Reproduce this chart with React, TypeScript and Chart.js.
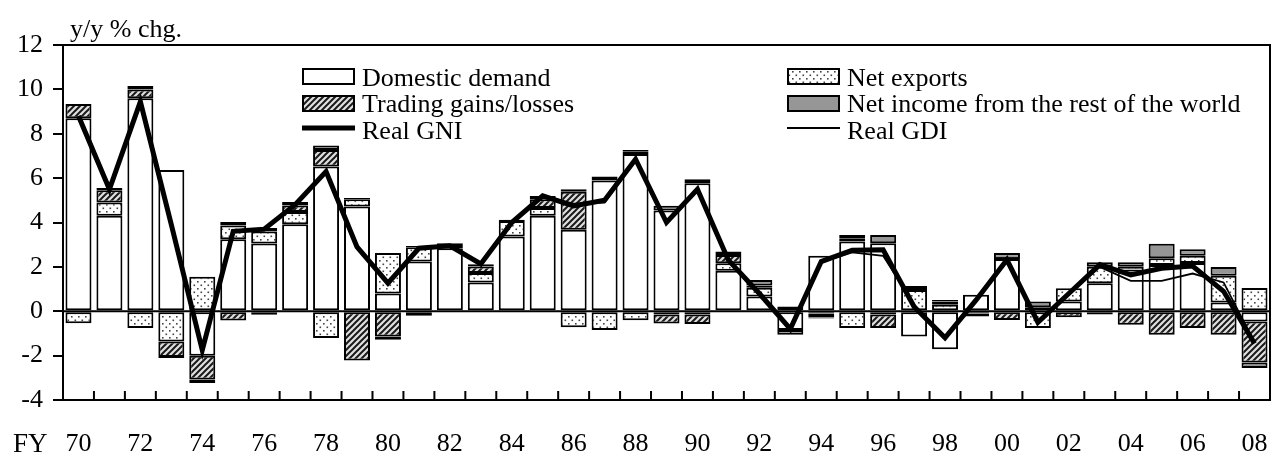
import React, { useEffect, useRef } from 'react';
import { Chart, registerables } from 'chart.js';

Chart.register(...registerables);

const years = [
  '70', '71', '72', '73', '74', '75', '76', '77', '78', '79',
  '80', '81', '82', '83', '84', '85', '86', '87', '88', '89',
  '90', '91', '92', '93', '94', '95', '96', '97', '98', '99',
  '00', '01', '02', '03', '04', '05', '06', '07', '08',
];

const domesticDemand = [
  8.7, 4.3, 9.6, 6.37, -2.0, 3.25, 3.05, 3.92, 6.52, 4.72,
  0.8, 2.24, 2.84, 1.3, 3.37, 4.3, 3.67, 5.89, 7.09, 4.54,
  5.77, 1.83, 0.66, -0.84, 2.5, 3.14, 3.07, -1.14, -1.71, 0.74,
  2.35, 0.1, 0.44, 1.26, 1.79, 2.09, 2.17, 0.4, -0.46,
];

const netExports = [
  -0.54, 0.6, -0.76, -1.36, 1.56, 0.62, 0.55, 0.55, -1.21, 0.33,
  1.82, 0.65, 0, 0.42, 0.7, 0.35, -0.72, -0.84, -0.4, -0.15,
  -0.15, 0.33, 0.4, 0, -0.1, -0.76, -0.15, 0.96, 0.29, -0.1,
  0, -0.76, 0.6, 0.75, 0.22, 0.3, 0.33, 1.2, 1.05,
];

const tradingGains = [
  0.64, 0.55, 0.4, -0.7, -1.08, -0.42, -0.16, 0.3, 0.75, -2.22,
  -1.14, -0.2, 0.1, 0.3, 0.05, 0.4, 1.72, 0, 0.1, -0.4,
  -0.43, 0.38, 0.1, 0.21, -0.18, 0.15, -0.61, 0.18, 0.15, -0.14,
  -0.39, 0.08, -0.27, -0.15, -0.61, -1.06, -0.76, -1.06, -1.85,
];

const netIncome = [
  0, 0.1, 0.15, -0.05, -0.15, 0.15, 0.15, 0.15, 0.2, 0.05,
  -0.15, 0.05, 0.12, 0.1, 0, 0.15, 0.11, 0.18, 0.08, 0.21,
  0.18, 0.15, 0.25, -0.22, -0.05, 0.15, 0.37, 0, 0.07, 0,
  0.27, 0.26, 0, 0.2, 0.2, 0.65, 0.3, 0.4, -0.25,
];

const realGNI = [
  8.8, 5.5, 9.45, 3.9, -1.75, 3.6, 3.7, 4.8, 6.3, 2.9,
  1.27, 2.84, 2.95, 2.13, 4.0, 5.2, 4.75, 5.0, 6.85, 4.0,
  5.5, 2.3, 0.8, -0.8, 2.24, 2.75, 2.77, 0.2, -1.2, 0.5,
  2.32, -0.5, 0.8, 2.1, 1.64, 1.94, 2.04, 0.9, -1.45,
];

const realGDI = [
  8.8, 5.5, 9.4, 3.9, -1.8, 3.6, 3.65, 4.8, 6.3, 2.9,
  1.3, 2.8, 2.95, 2.1, 4.0, 5.15, 4.85, 4.9, 6.8, 4.0,
  5.45, 2.3, 0.8, -0.8, 2.2, 2.65, 2.5, 0.3, -1.2, 0.5,
  2.3, -0.55, 0.75, 2.0, 1.37, 1.37, 1.7, 1.3, -1.4,
];

const yMin = -4;
const yMax = 12;
const yStep = 2;

const FONT = "'Liberation Serif', 'Times New Roman', serif";

function makeDots(ctx: CanvasRenderingContext2D) {
  const s = 7;
  const c = document.createElement('canvas');
  c.width = s;
  c.height = s;
  const g = c.getContext('2d')!;
  g.fillStyle = '#ffffff';
  g.fillRect(0, 0, s, s);
  g.fillStyle = '#444444';
  g.fillRect(1, 1, 1.6, 1.6);
  g.fillRect(4.5, 4.5, 1.6, 1.6);
  return ctx.createPattern(c, 'repeat')!;
}

function makeHatch(ctx: CanvasRenderingContext2D) {
  const s = 6;
  const c = document.createElement('canvas');
  c.width = s;
  c.height = s;
  const g = c.getContext('2d')!;
  g.fillStyle = '#e0e0e0';
  g.fillRect(0, 0, s, s);
  g.strokeStyle = '#1a1a1a';
  g.lineWidth = 2;
  g.beginPath();
  g.moveTo(-1, s + 1);
  g.lineTo(s + 1, -1);
  g.moveTo(-1, 1);
  g.lineTo(1, -1);
  g.moveTo(s - 1, s + 1);
  g.lineTo(s + 1, s - 1);
  g.stroke();
  return ctx.createPattern(c, 'repeat')!;
}

export default function App() {
  const ref = useRef<HTMLCanvasElement | null>(null);

  useEffect(() => {
    document.body.style.margin = '0';
    const canvas = ref.current!;
    const ctx = canvas.getContext('2d')!;
    const dots = makeDots(ctx);
    const hatch = makeHatch(ctx);
    const gray = '#969696';

    const decor = {
      id: 'decor',
      afterDatasetsDraw(chart: any) {
        const c = chart.ctx;
        const { left, right } = chart.chartArea;
        const ys = chart.scales.y;
        c.save();
        const y0 = ys.getPixelForValue(0);
        c.strokeStyle = '#000';
        c.lineWidth = 2;
        c.beginPath();
        c.moveTo(left, y0);
        c.lineTo(right, y0);
        c.stroke();
        c.restore();
      },
      afterDraw(chart: any) {
        const c = chart.ctx;
        const { left, right, top, bottom } = chart.chartArea;
        const xs = chart.scales.x;
        c.save();
        c.strokeStyle = '#000';
        c.lineWidth = 2;
        c.strokeRect(left, top, right - left, bottom - top);
        const half = (xs.getPixelForValue(1) - xs.getPixelForValue(0)) / 2;
        c.beginPath();
        for (let i = 1; i < years.length; i++) {
          const x = xs.getPixelForValue(i) - half;
          c.moveTo(x, bottom);
          c.lineTo(x, bottom - 9);
        }
        c.stroke();

        c.fillStyle = '#000';
        c.font = `26px ${FONT}`;
        c.textBaseline = 'alphabetic';
        c.textAlign = 'left';
        c.fillText('y/y % chg.', 70, 37);
        c.font = `27px ${FONT}`;
        c.fillText('FY', 13, 452);

        const rows = [86, 112, 139];
        const col1Box = 302;
        const col2Box = 787;
        const bw = 53;
        const drawBox = (x: number, yTop: number, fill: any) => {
          c.fillStyle = fill;
          c.fillRect(x, yTop, bw, 17);
          c.lineWidth = 2;
          c.strokeStyle = '#000';
          c.strokeRect(x + 1, yTop + 1, bw - 2, 15);
        };
        drawBox(col1Box, 68, '#ffffff');
        drawBox(col1Box, 95, hatch);
        drawBox(col2Box, 68, dots);
        drawBox(col2Box, 95, gray);
        c.strokeStyle = '#000';
        c.lineWidth = 5;
        c.beginPath();
        c.moveTo(col1Box, 128);
        c.lineTo(col1Box + bw, 128);
        c.stroke();
        c.lineWidth = 2;
        c.beginPath();
        c.moveTo(col2Box, 128);
        c.lineTo(col2Box + bw, 128);
        c.stroke();

        c.fillStyle = '#000';
        c.font = `26px ${FONT}`;
        c.fillText('Domestic demand', 362, rows[0]);
        c.fillText('Trading gains/losses', 362, rows[1]);
        c.fillText('Real GNI', 362, rows[2]);
        c.fillText('Net exports', 847, rows[0]);
        c.fillText('Net income from the rest of the world', 847, rows[1]);
        c.fillText('Real GDI', 847, rows[2]);
        c.restore();
      },
    };

    const barCommon = {
      type: 'bar' as const,
      stack: 'bars',
      borderColor: '#000',
      borderWidth: 2,
      borderSkipped: false,
      barPercentage: 0.84,
      categoryPercentage: 1.0,
      order: 2,
    };

    const chart = new Chart(canvas, {
      type: 'bar',
      data: {
        labels: years,
        datasets: [
          { ...barCommon, label: 'Domestic demand', data: domesticDemand, backgroundColor: '#ffffff' },
          { ...barCommon, label: 'Net exports', data: netExports, backgroundColor: dots },
          { ...barCommon, label: 'Trading gains/losses', data: tradingGains, backgroundColor: hatch },
          { ...barCommon, label: 'Net income from the rest of the world', data: netIncome, backgroundColor: gray },
          {
            type: 'line',
            label: 'Real GNI',
            data: realGNI,
            stack: 'gni',
            borderColor: '#000',
            borderWidth: 5,
            pointRadius: 0,
            tension: 0,
            fill: false,
            order: 1,
          } as any,
          {
            type: 'line',
            label: 'Real GDI',
            data: realGDI,
            stack: 'gdi',
            borderColor: '#000',
            borderWidth: 1.8,
            pointRadius: 0,
            tension: 0,
            fill: false,
            order: 0,
          } as any,
        ],
      },
      options: {
        animation: false,
        responsive: false,
        devicePixelRatio: 1,
        layout: { padding: { top: 45, right: 1, left: 0, bottom: 0 } },
        plugins: {
          legend: { display: false },
          tooltip: { enabled: false },
          title: { display: false },
        },
        scales: {
          x: {
            type: 'category',
            stacked: true,
            offset: true,
            grid: {
              display: true,
              drawOnChartArea: false,
              drawTicks: true,
              tickLength: 27,
              color: 'rgba(0,0,0,0)',
            },
            border: { display: true, color: '#000', width: 2 },
            ticks: {
              autoSkip: false,
              maxRotation: 0,
              minRotation: 0,
              padding: 2,
              color: '#000',
              font: { family: FONT, size: 26 },
              callback: (_v: any, i: number) => (i % 2 === 0 ? years[i] : ''),
            },
            afterFit: (s: any) => {
              s.height = 54;
            },
          },
          y: {
            stacked: true,
            min: yMin,
            max: yMax,
            grid: {
              drawOnChartArea: false,
              drawTicks: true,
              tickLength: 10,
              color: '#000',
              lineWidth: 2,
            },
            border: { display: true, color: '#000', width: 2 },
            ticks: {
              stepSize: yStep,
              padding: 10,
              color: '#000',
              font: { family: FONT, size: 26 },
            },
            afterFit: (s: any) => {
              s.width = 63;
            },
          },
        },
      },
      plugins: [decor],
    });

    return () => chart.destroy();
  }, []);

  return (
    <div style={{ width: 1271, height: 454 }}>
      <canvas ref={ref} width={1271} height={454} style={{ display: 'block' }} />
    </div>
  );
}
